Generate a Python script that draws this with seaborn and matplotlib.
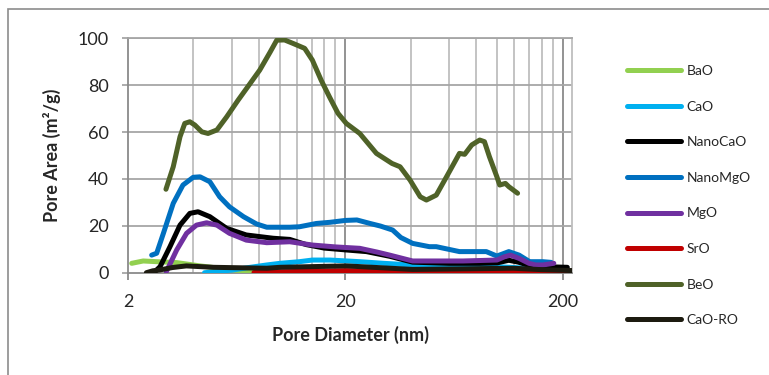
import matplotlib
matplotlib.use("Agg")
import matplotlib.pyplot as plt
from matplotlib.ticker import FixedLocator, NullFormatter, FixedFormatter
from matplotlib.patches import Rectangle
import pandas as pd
import seaborn as sns

# Pore size distribution per sorbent: pore diameter (nm) vs pore area (m²/g)
bao_x = [2.08, 2.35, 2.71, 3.35, 4.29, 6.1, 7.5]
bao_y = [4.0, 5.0, 4.7, 4.3, 2.9, 1.2, 0.4]

cao_x = [4.5, 5.2, 6.1, 7.3, 8.7, 10, 12.3, 14.1, 17, 23.3, 30, 40.8, 60, 83, 120, 160, 209]
cao_y = [0.0, 0.5, 1.2, 2.3, 3.3, 4.0, 4.7, 5.4, 5.4, 4.7, 4.0, 3.3, 3.0, 2.9, 2.2, 1.5, 1.2]

nanocao_x = [2.65, 2.81, 3.12, 3.47, 3.85, 4.2, 4.76, 5.69, 7.0, 9.3, 11.1, 13.2, 16,
             20.2, 25, 32, 40.8, 60, 83, 100, 113, 125, 146, 175, 210]
nanocao_y = [0.3, 2.6, 11.1, 20.3, 25.3, 26.0, 23.9, 18.9, 16.1, 14.7, 14.2, 12.0, 10.5,
             9.7, 9.0, 7.0, 4.5, 4.0, 4.0, 4.2, 5.3, 4.5, 2.6, 2.5, 2.3]

nanomgo_x = [2.57, 2.71, 2.91, 3.23, 3.58, 3.99, 4.29, 4.76, 5.28, 5.86, 6.8, 7.8, 8.7, 11.1,
             12.3, 14.7, 17, 20, 22.6, 26, 29, 33, 36, 40.8, 48.7, 52.4, 67, 74.5, 89, 99.6,
             113, 126, 141, 162, 177]
nanomgo_y = [7.5, 8.3, 16.8, 29.6, 37.4, 40.7, 40.9, 38.8, 32.4, 28.1, 23.9, 20.8, 19.4, 19.4,
             19.6, 21.0, 21.5, 22.3, 22.5, 21.0, 19.9, 18.2, 15.0, 12.5, 11.1, 11.1, 9.0, 9.0, 9.0, 7.1,
             9.0, 7.5, 4.7, 4.7, 4.4]

mgo_x = [3.0, 3.35, 3.72, 4.13, 4.6, 5.13, 5.86, 7.0, 8.7, 11.1, 14.1, 18, 23.3, 28, 32,
         40.8, 69.6, 99.6, 108, 115, 126, 140, 150, 162, 182]
mgo_y = [0.4, 9.7, 16.8, 20.3, 21.3, 20.3, 16.8, 13.9, 12.8, 13.2, 11.8, 11.0, 10.4, 8.8, 7.5,
         5.0, 5.0, 5.4, 6.8, 7.5, 6.1, 4.0, 3.3, 3.3, 4.0]

sro_x = [7.6, 10, 20.2, 40.8, 100, 215]
sro_y = [0.1, 0.4, 0.9, 0.3, 0.2, 0.2]

beo_x = [2.99, 3.23, 3.47, 3.65, 3.85, 4.06, 4.37, 4.67, 5.13, 5.69, 6.42, 7.2, 8.07, 9.0,
         9.67, 10.5, 11.5, 13.0, 14.1, 15.5, 16.9, 18.5, 20.2, 23.3, 27.8, 32.8, 35.7, 39.7,
         44.2, 47.2, 52.4, 58.4, 67, 70.8, 76.3, 83, 87.3, 92, 99.6, 102.6, 109, 113, 124]
beo_y = [35.6, 45.2, 58.0, 63.7, 64.4, 63.0, 60.1, 59.4, 60.9, 66.5, 73.6, 80.0, 86.4, 94.0,
         99.2, 99.3, 97.8, 95.7, 90.7, 82.0, 75.0, 68.0, 63.7, 59.4, 50.9, 46.6, 45.2, 39.5,
         32.4, 31.0, 33.1, 40.9, 50.9, 50.5, 54.5, 56.6, 55.9, 49.5, 40.9, 37.4, 38.1, 36.7, 33.9]

caoro_x = [2.43, 2.6, 2.81, 3.2, 3.71, 4.93, 8.7, 10, 20.2, 40.8, 118.6, 160, 222]
caoro_y = [0.0, 0.8, 1.2, 2.2, 2.9, 2.3, 1.9, 2.3, 2.9, 1.4, 1.9, 1.3, 0.9]

series_names = ["BaO", "CaO", "NanoCaO", "NanoMgO", "MgO", "SrO", "BeO", "CaO-RO"]
series_x = [bao_x, cao_x, nanocao_x, nanomgo_x, mgo_x, sro_x, beo_x, caoro_x]
series_y = [bao_y, cao_y, nanocao_y, nanomgo_y, mgo_y, sro_y, beo_y, caoro_y]
colors = ["#92D050", "#00B0F0", "#000000", "#0070C0", "#7030A0", "#C00000", "#4F6228", "#1D1B10"]

x_major = [2, 20, 200]
x_minor = [4, 6, 8, 10, 12, 14, 16, 18, 40, 60, 80, 100, 120, 140, 160, 180]
y_ticks = [0, 20, 40, 60, 80, 100]

frames = []
for name, xs, ys in zip(series_names, series_x, series_y):
    frames.append(pd.DataFrame({"diameter": xs, "area": ys, "sample": name}))
df = pd.concat(frames, ignore_index=True)

sns.set_style("white")
plt.rcParams["font.family"] = ["Lato", "DejaVu Sans"]

W, H = 769, 375
fig = plt.figure(figsize=(W / 100, H / 100), dpi=100)
ax_l, ax_r, ax_t, ax_b = 128, 571.7, 38.3, 272.7
ax = fig.add_axes([ax_l / W, (H - ax_b) / H, (ax_r - ax_l) / W, (ax_b - ax_t) / H])

# chart-area border
fig.patches.append(Rectangle((8 / W, -0.2), 1.2, (H - 9) / H + 0.2, transform=fig.transFigure,
                             fill=False, edgecolor="#8C8C8C", linewidth=1.2, zorder=0))

sns.lineplot(data=df, x="diameter", y="area", hue="sample", hue_order=series_names,
             palette=dict(zip(series_names, colors)), sort=False, estimator=None,
             units="sample", linewidth=3.6, ax=ax, zorder=3)
for ln in ax.get_lines():
    ln.set_solid_capstyle("round")
    ln.set_solid_joinstyle("round")

ax.set_xscale("log")
ax.set_xlim(2, 220)
ax.set_ylim(0, 100)
ax.xaxis.set_major_locator(FixedLocator(x_major))
ax.xaxis.set_major_formatter(FixedFormatter([str(v) for v in x_major]))
ax.xaxis.set_minor_locator(FixedLocator(x_minor))
ax.xaxis.set_minor_formatter(NullFormatter())
ax.set_yticks(y_ticks)
ax.set_yticklabels([str(v) for v in y_ticks])

ax.grid(False)
for v in x_minor:
    ax.axvline(v, color="#BEBEBE", linewidth=1.3, zorder=1)
for v in x_major[1:]:
    ax.axvline(v, color="#8A8A8A", linewidth=1.3, zorder=1)
for v in y_ticks[1:]:
    ax.axhline(v, color="#A6A6A6", linewidth=1.3, zorder=1)

for side in ["left", "bottom"]:
    ax.spines[side].set_color("#8A8A8A")
    ax.spines[side].set_linewidth(1.3)
ax.spines["right"].set_color("#BEBEBE")
ax.spines["right"].set_linewidth(1.3)
ax.spines["top"].set_color("#A6A6A6")
ax.spines["top"].set_linewidth(1.3)

ax.tick_params(axis="x", which="major", direction="out", length=5, width=1.3,
               color="#8A8A8A", pad=10, labelsize=13, bottom=True)
ax.tick_params(axis="x", which="minor", length=0)
ax.tick_params(axis="y", direction="out", length=4.5, width=1.3, color="#A6A6A6",
               pad=9.5, labelsize=13, left=True)

ax.set_xlabel("Pore Diameter (nm)", fontsize=13, fontweight="bold")
ax.set_ylabel("Pore Area (m²/g)", fontsize=13, fontweight="bold")
ax.xaxis.label.set_va("center")
ax.yaxis.label.set_va("center")
ax.xaxis.set_label_coords((350 - ax_l) / (ax_r - ax_l), -(335 - ax_b) / (ax_b - ax_t))
ax.yaxis.set_label_coords((52 - ax_l) / (ax_r - ax_l), 0.5)

sns.move_legend(ax, "upper left", bbox_to_anchor=(627.3 / W, 1 - 65.0 / H),
                bbox_transform=fig.transFigure, frameon=False, title=None, fontsize=10,
                handlelength=3.9, handletextpad=0.36, labelspacing=1.70,
                borderpad=0, borderaxespad=0)
for ln in ax.get_legend().get_lines():
    ln.set_linewidth(3.6)
    ln.set_solid_capstyle("round")

fig.savefig("out.png", dpi=100)
